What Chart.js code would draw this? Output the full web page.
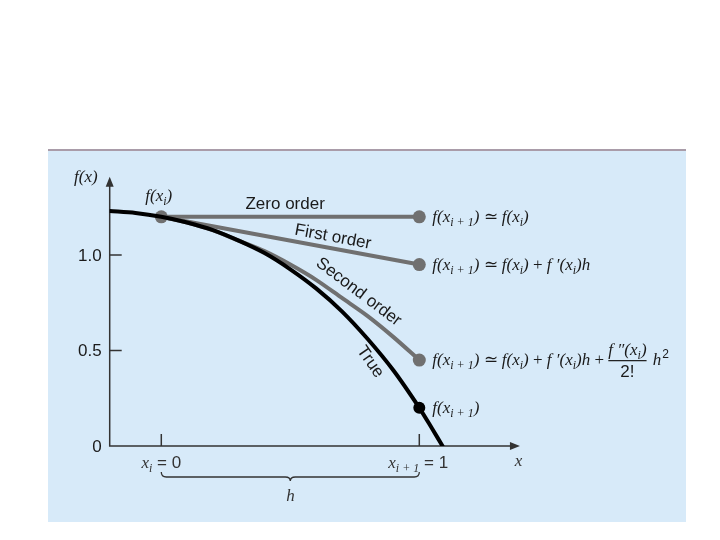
<!DOCTYPE html>
<html>
<head>
<meta charset="utf-8">
<script src="https://cdn.jsdelivr.net/npm/chart.js@4.4.0/dist/chart.umd.min.js"></script>
<style>
  html, body { margin: 0; padding: 0; background: #ffffff; }
  #chart { display: block; }
</style>
</head>
<body>
<canvas id="chart" width="720" height="540"></canvas>
<script>
// values
var trueX = [-0.2, -0.1, 0, 0.1, 0.2, 0.3, 0.4, 0.5, 0.6, 0.7, 0.8, 0.9, 1.0, 1.05, 1.09];
var trueY = [1.23, 1.22, 1.2, 1.17, 1.13, 1.075, 1.01, 0.925, 0.825, 0.705, 0.56, 0.395, 0.2, 0.09, 0];
var secondX = [0, 0.1, 0.2, 0.3, 0.4, 0.5, 0.6, 0.7, 0.8, 0.9, 1.0];
var secondY = [1.2, 1.17, 1.13, 1.075, 1.02, 0.95, 0.87, 0.775, 0.68, 0.57, 0.45];
var firstX = [0, 1];
var firstY = [1.2, 0.95];
var zeroX = [0, 1];
var zeroY = [1.2, 1.2];
var yTicks = [0, 0.5, 1.0];
var yTickLabels = ['0', '0.5', '1.0'];
var xTicks = [0, 1];

function pts(xs, ys) {
    return xs.map(function (x, i) { return {x: x, y: ys[i]}; });
}
function endDot(r) {
    return function (c) { return c.raw && c.raw.x === 1 ? r : 0; };
}

var GRAY = '#707070';
var INK = '#1a1a1a';
var SANS = '17px "Liberation Sans", Arial, sans-serif';
var IT = 'italic 17px "Liberation Serif", serif';
var RM = '17px "Liberation Serif", serif';
var SUB = 'italic 12px "Liberation Serif", serif';

// draws a row of text pieces [text, font, dy]
function rich(ctx, parts, x, y) {
    ctx.textAlign = 'left';
    ctx.textBaseline = 'alphabetic';
    parts.forEach(function (p) {
        ctx.font = p[1];
        ctx.fillText(p[0], x, y + (p[2] || 0));
        x += ctx.measureText(p[0]).width;
    });
    return x;
}
function richWidth(ctx, parts) {
    var w = 0;
    parts.forEach(function (p) { ctx.font = p[1]; w += ctx.measureText(p[0]).width; });
    return w;
}

var fxi1 = [['f(x', IT], ['i + 1', SUB, 4], [')', IT]];
var approx = [[' \u2243 ', RM]];
var fxi = [['f(x', IT], ['i', SUB, 4], [')', IT]];
var dfh = [[' + ', RM], ['f \u2032(x', IT], ['i', SUB, 4], [')h', IT]];

var panelPlugin = {
    id: 'panel',
    beforeDraw: function (chart) {
        var ctx = chart.ctx;
        ctx.save();
        ctx.fillStyle = '#d7eaf9';
        ctx.fillRect(48, 150, 638, 372);
        ctx.fillStyle = '#a99ca9';
        ctx.fillRect(48, 149, 638, 2);
        ctx.restore();
    },
    beforeDatasetsDraw: function (chart) {
        var ctx = chart.ctx, xs = chart.scales.x, ys = chart.scales.y;
        var x0 = xs.getPixelForValue(-0.2), y0 = ys.getPixelForValue(0);
        var xEnd = xs.getPixelForValue(1.39), yTop = ys.getPixelForValue(1.41);
        ctx.save();
        ctx.strokeStyle = '#333';
        ctx.fillStyle = '#333';
        ctx.lineWidth = 1.5;
        ctx.beginPath();
        ctx.moveTo(x0, yTop + 6); ctx.lineTo(x0, y0); ctx.lineTo(xEnd - 6, y0);
        ctx.stroke();
        // arrow heads
        ctx.beginPath();
        ctx.moveTo(x0, yTop); ctx.lineTo(x0 - 4, yTop + 10); ctx.lineTo(x0 + 4, yTop + 10); ctx.closePath(); ctx.fill();
        ctx.beginPath();
        ctx.moveTo(xEnd, y0); ctx.lineTo(xEnd - 10, y0 - 4); ctx.lineTo(xEnd - 10, y0 + 4); ctx.closePath(); ctx.fill();
        // y ticks
        ctx.font = SANS;
        ctx.textAlign = 'right';
        ctx.textBaseline = 'middle';
        yTicks.forEach(function (v, i) {
            var py = ys.getPixelForValue(v);
            if (v > 0) {
                ctx.beginPath(); ctx.moveTo(x0, py); ctx.lineTo(x0 + 12, py); ctx.stroke();
            }
            ctx.fillStyle = INK;
            ctx.fillText(yTickLabels[i], x0 - 8, py + 1);
        });
        // x ticks
        xTicks.forEach(function (v) {
            var px = xs.getPixelForValue(v);
            ctx.beginPath(); ctx.moveTo(px, y0); ctx.lineTo(px, y0 - 12); ctx.stroke();
        });
        // brace for h
        var bl = xs.getPixelForValue(0), br = xs.getPixelForValue(1), by = y0 + 31;
        var bm = (bl + br) / 2;
        ctx.lineWidth = 1.3;
        ctx.beginPath();
        ctx.moveTo(bl, by - 5);
        ctx.quadraticCurveTo(bl, by, bl + 5, by);
        ctx.lineTo(bm - 5, by);
        ctx.quadraticCurveTo(bm, by, bm, by + 4);
        ctx.quadraticCurveTo(bm, by, bm + 5, by);
        ctx.lineTo(br - 5, by);
        ctx.quadraticCurveTo(br, by, br, by - 5);
        ctx.stroke();
        ctx.restore();
    },
    afterDatasetsDraw: function (chart) {
        var ctx = chart.ctx, xs = chart.scales.x, ys = chart.scales.y;
        var y0 = ys.getPixelForValue(0);
        ctx.save();
        ctx.fillStyle = INK;

        // axis titles
        rich(ctx, [['f(x)', IT]], 74, 182);
        var p0 = xs.getPixelForValue(0), p1 = xs.getPixelForValue(1);
        ctx.fillStyle = '#333';
        var w = richWidth(ctx, [['x', IT], ['i', SUB, 4], [' = ', SANS], ['0', SANS]]);
        rich(ctx, [['x', IT], ['i', SUB, 4], [' = ', SANS], ['0', SANS]], p0 - w / 2, y0 + 22);
        rich(ctx, [['x', IT], ['i + 1', SUB, 4], [' = ', SANS], ['1', SANS]], p1 - 31, y0 + 22);
        rich(ctx, [['x', IT]], xs.getPixelForValue(1.37), y0 + 20);
        rich(ctx, [['h', IT]], (p0 + p1) / 2 - 4, y0 + 55);

        // f(x_i) over the start dot
        ctx.fillStyle = INK;
        rich(ctx, fxi, p0 - 16, ys.getPixelForValue(1.2) - 16);

        // labels along the lines
        function lineLabel(text, dx, dy, deg) {
            ctx.save();
            ctx.translate(xs.getPixelForValue(dx), ys.getPixelForValue(dy));
            ctx.rotate(deg * Math.PI / 180);
            ctx.font = SANS;
            ctx.textAlign = 'center';
            ctx.textBaseline = 'middle';
            ctx.fillText(text, 0, 0);
            ctx.restore();
        }
        lineLabel('Zero order', 0.48, 1.267, 0);
        lineLabel('First order', 0.665, 1.094, 10.5);
        lineLabel('Second order', 0.765, 0.806, 37);
        lineLabel('True', 0.81, 0.44, 55);

        // equations at the right
        var ex = p1 + 13;
        rich(ctx, fxi1.concat(approx, fxi), ex, ys.getPixelForValue(1.2) + 5);
        rich(ctx, fxi1.concat(approx, fxi, dfh), ex, ys.getPixelForValue(0.95) + 5);
        var ey = ys.getPixelForValue(0.45) + 5;
        var fx = rich(ctx, fxi1.concat(approx, fxi, dfh, [[' + ', RM]]), ex, ey);
        var num = [['f \u2033(x', IT], ['i', SUB, 4], [')', IT]];
        var nw = richWidth(ctx, num);
        rich(ctx, num, fx, ey - 10);
        ctx.fillRect(fx, ey - 5, nw, 1.2);
        ctx.font = SANS;
        var dw = ctx.measureText('2!').width;
        ctx.textAlign = 'left';
        ctx.fillText('2!', fx + (nw - dw) / 2, ey + 12);
        var hx = rich(ctx, [[' h', IT]], fx + nw + 2, ey);
        rich(ctx, [['2', '12px "Liberation Sans", Arial, sans-serif', -7]], hx + 1, ey);
        rich(ctx, fxi1, ex, ys.getPixelForValue(0.2) + 5);
        ctx.restore();
    }
};

var ctx = document.getElementById('chart').getContext('2d');
var chart = new Chart(ctx, {
    type: 'scatter',
    data: {
        datasets: [{
            label: 'True',
            data: pts(trueX, trueY),
            showLine: true,
            borderColor: '#000',
            backgroundColor: '#000',
            borderWidth: 4,
            tension: 0.3,
            pointRadius: endDot(6),
            pointBorderWidth: 0,
            order: 0
        }, {
            label: 'Second order',
            data: pts(secondX, secondY),
            showLine: true,
            borderColor: GRAY,
            backgroundColor: GRAY,
            borderWidth: 4,
            tension: 0.3,
            pointRadius: endDot(6.5),
            pointBorderWidth: 0,
            order: 2
        }, {
            label: 'First order',
            data: pts(firstX, firstY),
            showLine: true,
            borderColor: GRAY,
            backgroundColor: GRAY,
            borderWidth: 4,
            pointRadius: endDot(6.5),
            pointBorderWidth: 0,
            order: 3
        }, {
            label: 'Zero order',
            data: pts(zeroX, zeroY),
            showLine: true,
            borderColor: GRAY,
            backgroundColor: GRAY,
            borderWidth: 4,
            pointRadius: 6.5,
            pointBorderWidth: 0,
            order: 1
        }]
    },
    options: {
        responsive: false,
        animation: false,
        layout: {
            padding: {left: 109.7, right: 197.5, top: 178.6, bottom: 94}
        },
        scales: {
            x: {type: 'linear', min: -0.2, max: 1.4, display: false},
            y: {type: 'linear', min: 0, max: 1.4, display: false}
        },
        elements: {line: {borderCapStyle: 'round'}},
        plugins: {
            legend: {display: false},
            tooltip: {enabled: false}
        }
    },
    plugins: [panelPlugin]
});
</script>
</body>
</html>
